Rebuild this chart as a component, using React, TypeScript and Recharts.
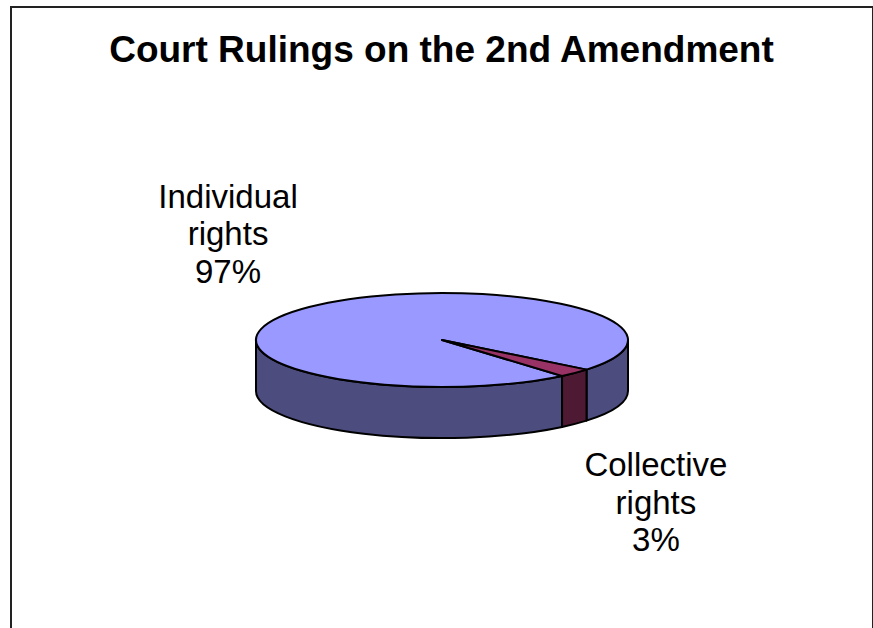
import React from 'react';
import { PieChart, Pie } from 'recharts';

// ruling categories and their share of court rulings (%)
const categories = ['Individual rights', 'Collective rights'];
const shares = [97, 3];

const TOP_COLORS = ['#9999FF', '#993366'];
const SIDE_COLORS = ['#4C4C7F', '#4D1933'];

const data = categories.map((name, i) => ({ name, value: shares[i] }));

// fake 3D look: flatten the disc vertically and give it some depth
const TILT = 0.253;
const DEPTH = 51;
const RAD = Math.PI / 180;

const FONT = '"Liberation Sans", Arial, Helvetica, sans-serif';

const ellipsePt = (cx: number, cy: number, rx: number, ry: number, a: number, dz = 0) => [
  cx + rx * Math.cos(a * RAD),
  cy - ry * Math.sin(a * RAD) + dz,
];

const Slice3D = (props: any) => {
  const { cx, cy, outerRadius, startAngle, endAngle, index } = props;
  const rx = outerRadius;
  const ry = outerRadius * TILT;
  const s = Math.min(startAngle, endAngle);
  const e = Math.max(startAngle, endAngle);

  // split slice at 0/180 deg so each piece is fully front or back
  const breaks = [s];
  for (let k = Math.ceil(s / 180) * 180; k < e; k += 180) {
    if (k > s) breaks.push(k);
  }
  breaks.push(e);

  const walls: string[] = [];
  for (let i = 0; i < breaks.length - 1; i++) {
    const a = breaks[i];
    const b = breaks[i + 1];
    const mid = (a + b) / 2;
    if (Math.sin(mid * RAD) >= 0) continue; // back half, hidden
    const [ax, ay] = ellipsePt(cx, cy, rx, ry, a);
    const [bx, by] = ellipsePt(cx, cy, rx, ry, b);
    walls.push(
      `M${ax},${ay} A${rx},${ry} 0 0 0 ${bx},${by} L${bx},${by + DEPTH} A${rx},${ry} 0 0 1 ${ax},${ay + DEPTH} Z`
    );
  }

  const [x1, y1] = ellipsePt(cx, cy, rx, ry, s);
  const [x2, y2] = ellipsePt(cx, cy, rx, ry, e);
  const large = e - s > 180 ? 1 : 0;
  const top = `M${cx},${cy} L${x1},${y1} A${rx},${ry} 0 ${large} 0 ${x2},${y2} Z`;

  return (
    <g>
      {walls.map((d, i) => (
        <path key={i} d={d} fill={SIDE_COLORS[index]} stroke="#000" strokeWidth={2} strokeLinejoin="round" />
      ))}
      <path d={top} fill={TOP_COLORS[index]} stroke="#000" strokeWidth={2} strokeLinejoin="round" />
    </g>
  );
};

const renderLabel = (props: any) => {
  const { cx, cy, midAngle, outerRadius, name, value } = props;
  const ry = outerRadius * TILT;
  const sin = Math.sin(midAngle * RAD);
  const x = cx + outerRadius * 1.61 * Math.cos(midAngle * RAD);
  const yc = cy - ry * 3.3 * sin + (sin < 0 ? DEPTH : 0);
  const lines = [...String(name).split(' '), `${value}%`];
  const lh = 37.5;
  const first = yc + 14 - lh * (lines.length - 1) / 2;
  return (
    <text x={x} y={first} textAnchor="middle" fontFamily={FONT} fontSize={33} fill="#000">
      {lines.map((l, i) => (
        <tspan key={i} x={x} y={first + i * lh}>{l}</tspan>
      ))}
    </text>
  );
};

export default function App() {
  return (
    <div style={{ position: 'absolute', left: 0, top: 0, width: 873, height: 628, overflow: 'hidden', background: '#fff' }}>
      <div
        style={{
          position: 'absolute', left: 10, top: 6, width: 864, height: 700,
          border: '2px solid #222', boxSizing: 'border-box',
        }}
      />
      <div
        style={{
          position: 'absolute', left: 0, top: 31, width: 883, textAlign: 'center',
          fontFamily: FONT, fontWeight: 'bold', fontSize: 37, lineHeight: '37px', color: '#000',
        }}
      >
        Court Rulings on the 2nd Amendment
      </div>
      <div style={{ position: 'absolute', left: 0, top: 0 }}>
        <PieChart width={873} height={628} margin={{ top: 0, right: 0, bottom: 0, left: 0 }}>
          <Pie
            data={data}
            dataKey="value"
            nameKey="name"
            cx={442}
            cy={340}
            outerRadius={186}
            startAngle={-39}
            endAngle={321}
            shape={Slice3D}
            label={renderLabel}
            labelLine={false}
            stroke="#000"
            isAnimationActive={false}
          />
        </PieChart>
      </div>
    </div>
  );
}
